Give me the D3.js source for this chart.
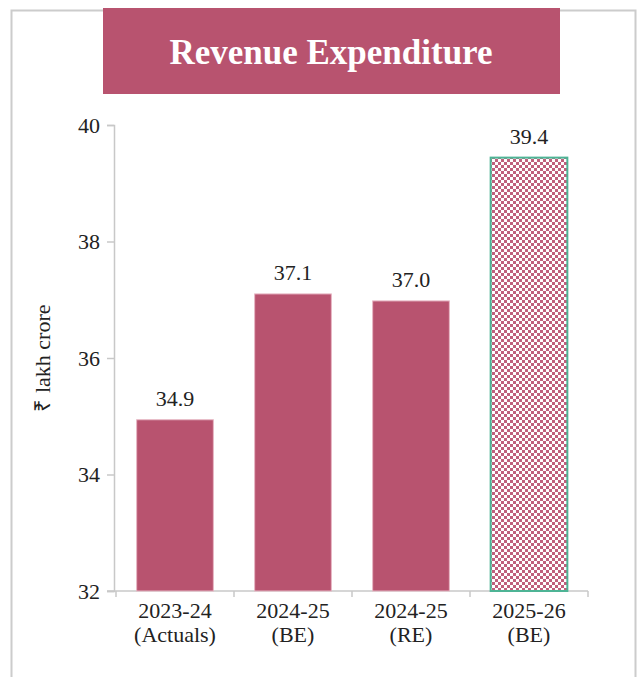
<!DOCTYPE html>
<html>
<head>
<meta charset="utf-8">
<script src="https://cdn.jsdelivr.net/npm/d3@7"></script>
<style>
  body { margin: 0; background: #fff; }
</style>
</head>
<body>
<script>
const categories = ["2023-24|(Actuals)", "2024-25|(BE)", "2024-25|(RE)", "2025-26|(BE)"];
const values = [34.94, 37.1, 36.98, 39.44];
const labels = ["34.9", "37.1", "37.0", "39.4"];
const yTicks = [32, 34, 36, 38, 40];

const width = 638;
const height = 677;
const barColor = "#b8536f";
const serif = "'Liberation Serif', 'Times New Roman', serif";

const svg = d3.select("body")
  .append("svg")
  .attr("width", width)
  .attr("height", height);

// checker pattern for the last bar
const defs = svg.append("defs");
const pat = defs.append("pattern")
  .attr("id", "checker")
  .attr("patternUnits", "userSpaceOnUse")
  .attr("width", 6)
  .attr("height", 6);
pat.append("rect").attr("width", 6).attr("height", 6).attr("fill", "#fff");
pat.append("rect").attr("width", 3).attr("height", 3).attr("fill", "#c0607c");
pat.append("rect").attr("x", 3).attr("y", 3).attr("width", 3).attr("height", 3).attr("fill", "#c0607c");

// outer frame
svg.append("path")
  .attr("d", "M11.5,677 L11.5,10.5 L635.5,10.5 L635.5,677")
  .attr("fill", "none")
  .attr("stroke", "#cccccc")
  .attr("stroke-width", 2);

// title box
svg.append("rect")
  .attr("x", 103).attr("y", 8)
  .attr("width", 457).attr("height", 86)
  .attr("fill", barColor);
svg.append("text")
  .attr("x", 331).attr("y", 64)
  .attr("text-anchor", "middle")
  .attr("font-family", serif)
  .attr("font-weight", "bold")
  .attr("font-size", 35)
  .attr("fill", "#fff")
  .text("Revenue Expenditure");

const x = d3.scaleBand()
  .domain(categories)
  .range([116, 588])
  .paddingInner(0.35)
  .paddingOuter(0.175);

const y = d3.scaleLinear()
  .domain([32, 40])
  .range([591, 125]);

// y axis
const yAxis = svg.append("g")
  .attr("transform", "translate(114,0)")
  .call(d3.axisLeft(y).tickValues(yTicks).tickSize(7).tickPadding(7).tickFormat(d3.format("d")));
yAxis.attr("font-family", serif).attr("font-size", 22);
yAxis.select(".domain").attr("stroke", "#c8c8c8").attr("stroke-width", 1.5);
yAxis.selectAll(".tick line").attr("stroke", "#c8c8c8").attr("stroke-width", 1.5);
yAxis.selectAll(".tick text")
  .attr("font-family", serif)
  .attr("font-size", 22)
  .attr("fill", "#222");

// x axis line and boundary ticks
svg.append("line")
  .attr("x1", 107).attr("x2", 588)
  .attr("y1", 591).attr("y2", 591)
  .attr("stroke", "#c8c8c8").attr("stroke-width", 1.5);
const step = x.step();
const bounds = d3.range(categories.length + 1).map(i => 116 + i * step);
svg.selectAll(".xtick")
  .data(bounds)
  .enter()
  .append("line")
  .attr("class", "xtick")
  .attr("x1", d => d).attr("x2", d => d)
  .attr("y1", 591).attr("y2", 597)
  .attr("stroke", "#c8c8c8").attr("stroke-width", 1.5);

// bars
svg.selectAll(".bar")
  .data(values)
  .enter()
  .append("rect")
  .attr("class", "bar")
  .attr("x", (d, i) => x(categories[i]))
  .attr("y", d => y(d))
  .attr("width", x.bandwidth())
  .attr("height", d => y(32) - y(d))
  .attr("fill", (d, i) => i === 3 ? "url(#checker)" : barColor)
  .attr("stroke", (d, i) => i === 3 ? "#4db495" : "#e7b7c4")
  .attr("stroke-width", (d, i) => i === 3 ? 2 : 1);

// value labels
svg.selectAll(".val")
  .data(values)
  .enter()
  .append("text")
  .attr("class", "val")
  .attr("x", (d, i) => x(categories[i]) + x.bandwidth() / 2)
  .attr("y", d => y(d) - 14)
  .attr("text-anchor", "middle")
  .attr("font-family", serif)
  .attr("font-size", 22)
  .attr("fill", "#222")
  .text((d, i) => labels[i]);

// category labels
categories.forEach(c => {
  const parts = c.split("|");
  const cx = x(c) + x.bandwidth() / 2;
  const t = svg.append("text")
    .attr("text-anchor", "middle")
    .attr("font-family", serif)
    .attr("font-size", 22)
    .attr("fill", "#222");
  t.append("tspan").attr("x", cx).attr("y", 618).text(parts[0]);
  t.append("tspan").attr("x", cx).attr("y", 642).text(parts[1]);
});

// y axis title
svg.append("text")
  .attr("transform", "translate(50,358) rotate(-90)")
  .attr("text-anchor", "middle")
  .attr("font-family", serif)
  .attr("font-size", 22)
  .attr("fill", "#222")
  .text("₹ lakh crore");
</script>
</body>
</html>
